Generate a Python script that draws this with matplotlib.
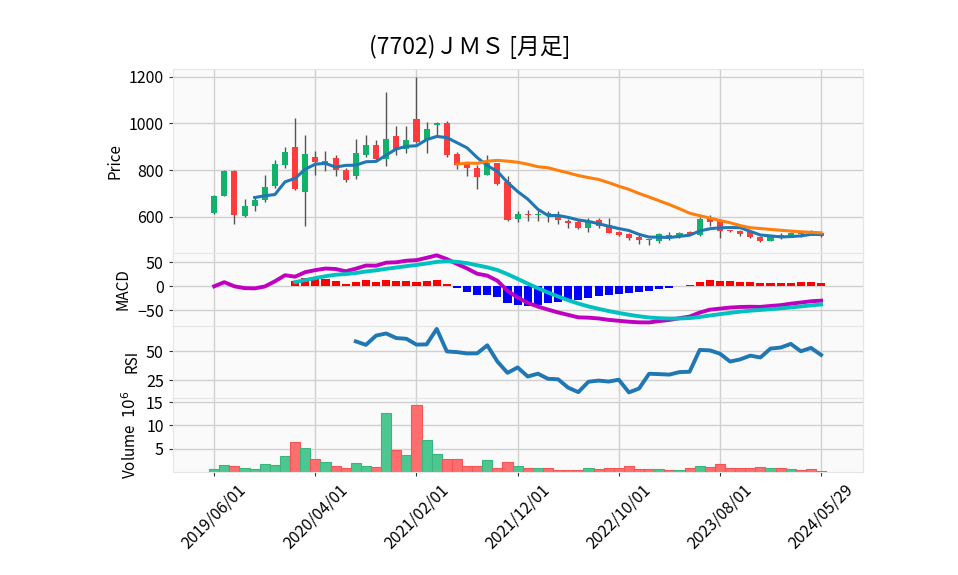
import numpy as np
import pandas as pd
import matplotlib
matplotlib.use("Agg")
import matplotlib.pyplot as plt

plt.rcParams['font.family'] = ['Noto Sans CJK JP', 'DejaVu Sans']

#monthly OHLC (yen)
opens = [615, 690, 795, 602, 645, 672, 730, 823, 900, 705,
         858, 820, 850, 800, 774, 864, 908, 847, 944, 890,
         1017, 929, 993, 1003, 870, 824, 811, 781, 829, 751,
         590, 614, 607, 618, 601, 581, 576, 551, 587, 563,
         534, 528, 515, 504, 495, 524, 519, 534, 521, 590,
         580, 542, 538, 534, 515, 498, 521, 519, 535, 534,
         532]
highs = [695, 802, 800, 677, 680, 777, 845, 900, 1024, 950,
         880, 883, 863, 810, 934, 950, 930, 1136, 990, 990,
         1197, 1006, 1005, 1011, 879, 834, 823, 866, 832, 776,
         624, 630, 630, 626, 623, 591, 589, 593, 593, 596,
         540, 532, 520, 506, 532, 535, 535, 540, 599, 606,
         582, 545, 542, 537, 518, 522, 530, 535, 538, 545,
         535]
lows = [612, 688, 570, 597, 625, 665, 725, 810, 715, 562,
        780, 797, 776, 750, 762, 856, 842, 816, 863, 874,
        918, 874, 950, 854, 803, 775, 720, 777, 737, 584,
        577, 581, 583, 576, 567, 553, 547, 534, 553, 530,
        517, 500, 483, 481, 486, 501, 510, 520, 518, 560,
        509, 533, 518, 508, 492, 496, 505, 512, 515, 524,
        515]
closes = [690, 798, 606, 645, 673, 728, 824, 878, 720, 870,
          835, 840, 800, 756, 874, 908, 847, 934, 890, 930,
          920, 978, 1003, 865, 821, 809, 770, 831, 740, 586,
          614, 607, 614, 607, 586, 573, 551, 583, 560, 530,
          524, 509, 501, 501, 528, 518, 532, 527, 591, 576,
          538, 537, 525, 512, 498, 519, 515, 532, 527, 530,
          517]
#volume in millions of shares
volumes = [0.58, 1.45, 1.23, 0.8, 0.58, 1.67, 1.45, 3.4, 6.45, 5.1,
           2.75, 2.1, 1.38, 0.94, 1.9, 1.23, 1.0, 12.75, 4.7, 3.6,
           14.5, 6.9, 3.85, 2.7, 2.7, 1.38, 1.38, 2.5, 0.94, 2.1,
           1.23, 0.8, 0.8, 0.8, 0.5, 0.5, 0.5, 0.8, 0.58, 0.8,
           0.8, 1.23, 0.58, 0.58, 0.58, 0.36, 0.36, 0.8, 1.38, 1.16,
           1.67, 0.8, 0.8, 0.8, 1.0, 0.8, 0.8, 0.58, 0.36, 0.58,
           0.15]

tick_pos = [0, 10, 20, 30, 40, 50, 60]
tick_labels = ["2019/06/01", "2020/04/01", "2021/02/01", "2021/12/01",
               "2022/10/01", "2023/08/01", "2024/05/29"]

title = "(7702)ＪＭＳ [月足]"

df = pd.DataFrame({"o": opens, "h": highs, "l": lows, "c": closes, "v": volumes})
x = np.arange(len(df))

#indicators
ma5 = df.c.rolling(5).mean()
ma25 = df.c.rolling(25).mean()
ema12 = df.c.ewm(span=12, adjust=False).mean()
ema26 = df.c.ewm(span=26, adjust=False).mean()
macd = ema12 - ema26
signal = macd.ewm(span=9, adjust=False).mean()
hist = macd - signal
signal[:8] = np.nan
hist[:8] = np.nan
diff = df.c.diff()
gain = diff.clip(lower=0).rolling(14).mean()
loss = (-diff.clip(upper=0)).rolling(14).mean()
rsi = 100 * gain / (gain + loss)

up_col = '#12b26a'
down_col = '#ff3b3b'
up = df.c >= df.o

fig = plt.figure(figsize=(9.58, 5.75), dpi=100)
L, W = 0.1803, 0.7206
ax1 = fig.add_axes([L, 1 - 252.5 / 575, W, (252.5 - 69) / 575])
ax2 = fig.add_axes([L, 1 - 325.7 / 575, W, (325.7 - 252.5) / 575], sharex=ax1)
ax3 = fig.add_axes([L, 1 - 398 / 575, W, (398 - 325.7) / 575], sharex=ax1)
ax4 = fig.add_axes([L, 1 - 472 / 575, W, (472 - 398) / 575], sharex=ax1)

for ax in (ax1, ax2, ax3, ax4):
    ax.set_facecolor('#fafafa')
    ax.grid(True, color='#d0d0d0', lw=1)
    ax.set_axisbelow(True)
    for s in ax.spines.values():
        s.set_color('#e6e6e6')
    ax.tick_params(labelsize=11.5, length=3, color='#333333')

#candles
ax1.vlines(x, df.l, df.h, color='#555555', lw=1, zorder=2)
bottom = np.minimum(df.o, df.c)
height = np.maximum(np.abs(df.c - df.o), 2)
ax1.bar(x, height, 0.6, bottom=bottom, color=np.where(up, up_col, down_col), zorder=3)
ax1.plot(x, ma5, color='#1f77b4', lw=2.2, zorder=4)
ax1.plot(x, ma25, color='#ff7f0e', lw=2.2, zorder=4)
ax1.set_ylim(447, 1233)
ax1.set_yticks([600, 800, 1000, 1200])
ax1.set_ylabel("Price", fontsize=11)

#macd
ax2.bar(x, hist, 0.8, color=np.where(hist >= 0, '#ff0000', '#0000ff'), zorder=2)
ax2.plot(x, macd, color='#c000c0', lw=2.8, zorder=3)
ax2.plot(x, signal, color='#00c0c0', lw=2.8, zorder=3)
ax2.set_ylim(-82, 70.4)
ax2.set_yticks([-50, 0, 50])
ax2.set_ylabel("MACD", fontsize=11)

#rsi
ax3.plot(x, rsi, color='#1f77b4', lw=2.8)
ax3.set_ylim(9.9, 71.6)
ax3.set_yticks([25, 50])
ax3.set_ylabel("RSI", fontsize=11)

#volume
ax4.bar(x, df.v, 1.0, color=np.where(up, '#4cc790', '#ff6e6e'),
        edgecolor=np.where(up, '#3bb57f', '#f55555'), lw=0.8)
ax4.set_ylim(0, 15.9)
ax4.set_yticks([5, 10, 15])
ax4.set_ylabel("Volume  $10^{6}$", fontsize=11)

ax1.set_xlim(-4.1, 64.15)
ax4.set_xticks(tick_pos)
ax4.set_xticklabels(tick_labels, rotation=45)
for ax in (ax1, ax2, ax3):
    ax.tick_params(axis='x', bottom=False, labelbottom=False)

fig.suptitle(title, fontsize=16.5, x=0.49, y=0.94)

fig.savefig("out.png", dpi=100)
